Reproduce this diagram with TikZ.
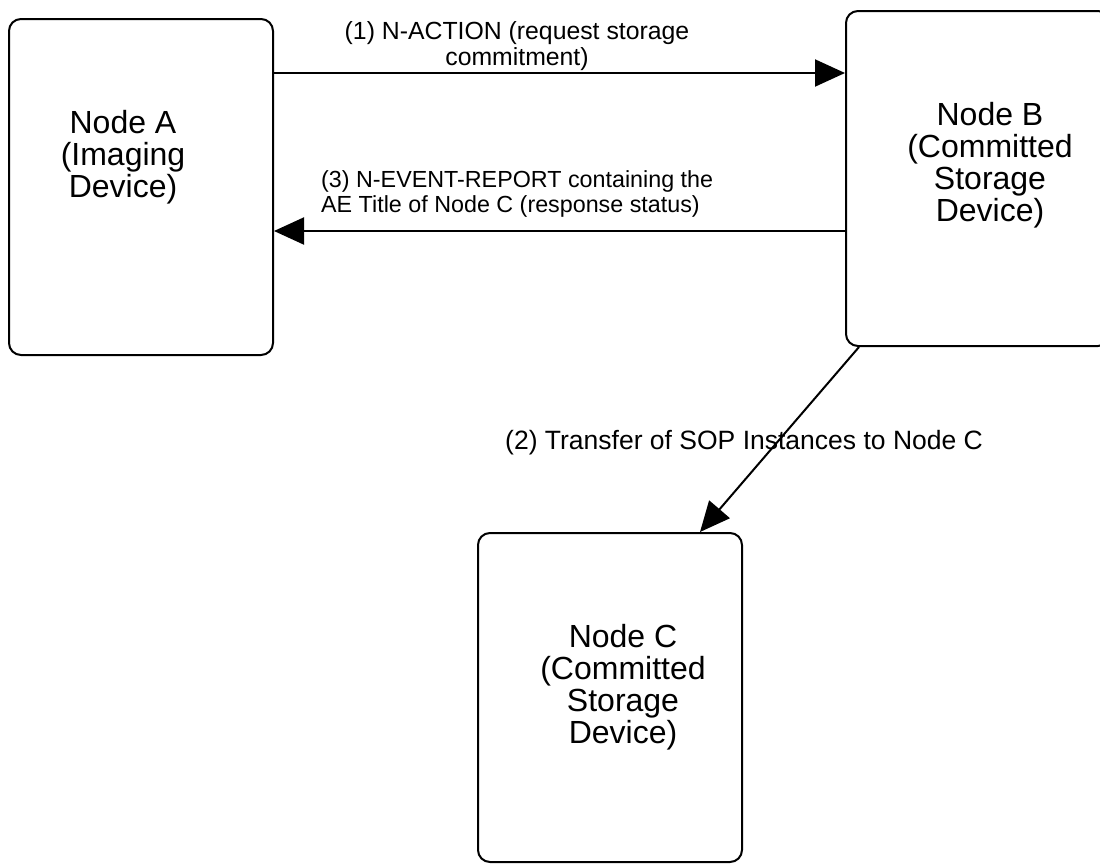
\documentclass[tikz,border=0pt]{standalone}
\usepackage{fontspec}
\setmainfont{Liberation Sans}
\usetikzlibrary{positioning,arrows.meta,calc}

\begin{document}
\begin{tikzpicture}[
  x=1pt, y=-1pt,
  dev/.style={draw, line width=2pt, rounded corners=12pt, inner sep=0pt},
  devtxt/.style={font=\fontsize{32}{32}\selectfont, align=center,
                 inner sep=0pt, anchor=north},
  msgtxt/.style={inner sep=0pt},
  msg/.style={-{Triangle[length=30pt,width=27pt]}, line width=2pt}
]
\useasboundingbox (0,0) rectangle (1100,865);

%% the three devices
\node[dev, minimum width=264pt, minimum height=336pt] (nodeA) at (141,187) {};
\node[dev, minimum width=264pt, minimum height=335pt] (nodeB) at (978,178.5) {};
\node[dev, minimum width=264pt, minimum height=329pt] (nodeC) at (610,697.5) {};

\node[devtxt] (txtA) at (123,110) {Node A\\(Imaging\\Device)};
\node[devtxt] (txtB) at (990,102) {Node B\\(Committed\\Storage\\Device)};
\node[devtxt] (txtC) at (623,624) {Node C\\(Committed\\Storage\\Device)};

%% message rows
\coordinate (row1) at (0,73);
\coordinate (row3) at (0,231);

\draw[msg] (nodeA.east |- row1) -- (nodeB.west |- row1);
\draw[msg] (nodeB.west |- row3) -- (nodeA.east |- row3);
\draw[msg] ($(nodeB.south west)+(14,0)$) -- ($(nodeC.north)+(90,0)$);

\node[msgtxt, font=\fontsize{24.8}{26}\selectfont, align=center,
      anchor=north] (lbl1) at (517,21)
  {(1) N-ACTION (request storage\\commitment)};
\node[msgtxt, font=\fontsize{23.3}{25.5}\selectfont, align=left,
      anchor=north west] (lbl3) at (321,170)
  {(3) N-EVENT-REPORT containing the\\AE Title of Node C (response status)};
\node[msgtxt, font=\fontsize{26.5}{28}\selectfont,
      anchor=base west] (lbl2) at (505,449)
  {(2) Transfer of SOP Instances to Node C};

\end{tikzpicture}
\end{document}
